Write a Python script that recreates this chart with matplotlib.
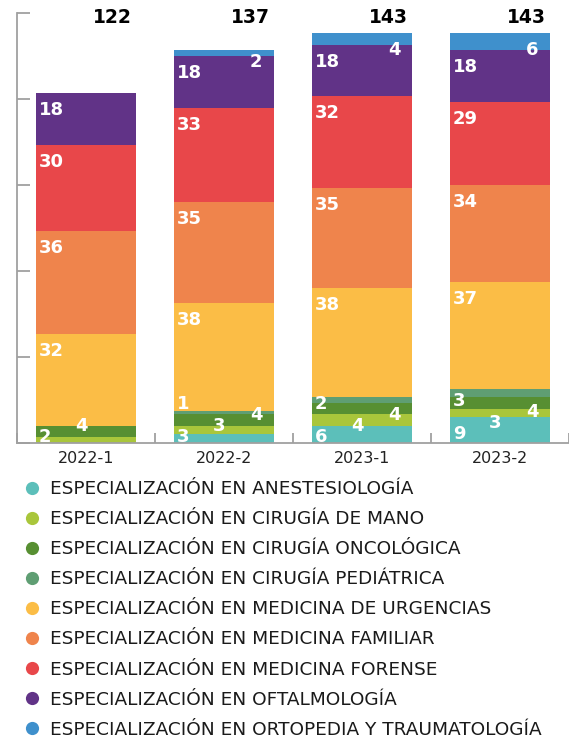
import numpy as np
import matplotlib.pyplot as plt
from matplotlib.lines import Line2D

periods = ["2022-1", "2022-2", "2023-1", "2023-2"]

programs = [
    "ESPECIALIZACIÓN EN ANESTESIOLOGÍA",
    "ESPECIALIZACIÓN EN CIRUGÍA DE MANO",
    "ESPECIALIZACIÓN EN CIRUGÍA ONCOLÓGICA",
    "ESPECIALIZACIÓN EN CIRUGÍA PEDIÁTRICA",
    "ESPECIALIZACIÓN EN MEDICINA DE URGENCIAS",
    "ESPECIALIZACIÓN EN MEDICINA FAMILIAR",
    "ESPECIALIZACIÓN EN MEDICINA FORENSE",
    "ESPECIALIZACIÓN EN OFTALMOLOGÍA",
    "ESPECIALIZACIÓN EN ORTOPEDIA Y TRAUMATOLOGÍA",
]

anestesiologia = [0, 3, 6, 9]
cirugia_mano = [2, 3, 4, 3]
cirugia_oncologica = [4, 4, 4, 4]
cirugia_pediatrica = [0, 1, 2, 3]
medicina_urgencias = [32, 38, 38, 37]
medicina_familiar = [36, 35, 35, 34]
medicina_forense = [30, 33, 32, 29]
oftalmologia = [18, 18, 18, 18]
ortopedia = [0, 2, 4, 6]

series = [anestesiologia, cirugia_mano, cirugia_oncologica, cirugia_pediatrica,
          medicina_urgencias, medicina_familiar, medicina_forense, oftalmologia, ortopedia]

colors = ["#5cbfba", "#a9c63b", "#578f32", "#5f9e73", "#fbbd46",
          "#ef844c", "#e8474a", "#613387", "#3f90cc"]

W, H = 569, 742
fig = plt.figure(figsize=(W / 100, H / 100), dpi=100)
ax = fig.add_axes([17 / W, 299 / H, 552 / W, 430 / H])

x = np.arange(len(periods))
bar_w = 0.725
ymax = 150
ppu = 430 / ymax      # pixels per unit on y
ppx = 552 / 4         # pixels per unit on x

bottom = np.zeros(len(periods))
tops = []
for vals, col in zip(series, colors):
    vals = np.array(vals, dtype=float)
    ax.bar(x, vals, bar_w, bottom=bottom, color=col, linewidth=0)
    bottom = bottom + vals
    tops.append(bottom.copy())

# value labels; the thin surgery segments at the base stagger left/center/right
# and get pushed upward so they don't sit on top of each other
cycle = ["left", "center", "right"]
for i in range(len(periods)):
    prev = -np.inf
    n_small = 0
    for k, vals in enumerate(series):
        v = vals[i]
        if v == 0:
            continue
        if k < 4:
            pos = cycle[n_small % 3]
            n_small += 1
        elif k == len(series) - 1:
            pos = "right"
        else:
            pos = "left"
        top = tops[k][i]
        yc = max(top - 17 / ppu, 6 / ppu, prev + 11 / ppu)
        prev = yc
        if pos == "left":
            xt, ha = x[i] - bar_w / 2 + 3 / ppx, "left"
        elif pos == "center":
            xt, ha = x[i] - 5 / ppx, "center"
        else:
            xt, ha = x[i] + 32 / ppx, "center"
        ax.text(xt, yc, str(v), ha=ha, va="center", color="white",
                fontsize=13, fontweight="bold")

# totals above each bar
totals = bottom
for i, t in enumerate(totals):
    ax.text(x[i] + bar_w / 2 - 4 / ppx, ymax - 4.5 / ppu, f"{int(t)}", ha="right", va="center",
            fontsize=13.5, fontweight="heavy", color="black", clip_on=False)

ax.set_xlim(-0.5, len(periods) - 0.5)
ax.set_ylim(0, ymax)

for s in ["top", "right"]:
    ax.spines[s].set_visible(False)
for s in ["left", "bottom"]:
    ax.spines[s].set_color("#a0a0a0")
    ax.spines[s].set_linewidth(1.3)

ax.set_yticks(np.arange(0, ymax + 1, 30))
ax.set_yticklabels([])
ax.tick_params(axis="y", direction="in", length=9.5, width=1.3, color="#a0a0a0")

ax.set_xticks(x)
ax.set_xticklabels(periods, fontsize=11.5, color="#222222")
ax.tick_params(axis="x", which="major", length=0, pad=6)
ax.set_xticks(np.arange(-0.5, len(periods)), minor=True)
ax.tick_params(axis="x", which="minor", direction="in", length=7, width=1.3, color="#a0a0a0")

handles = [Line2D([], [], linestyle="none", marker="o", markersize=9.5,
                  markerfacecolor=c, markeredgewidth=0) for c in colors]
fig.legend(handles, programs, loc="upper left", bbox_to_anchor=(24 / W, 1 - 480 / H),
           frameon=False, borderpad=0, borderaxespad=0, handlelength=0.9,
           handletextpad=0.5, labelspacing=0.655, fontsize=13.3,
           labelcolor="#1a1a1a")

fig.savefig("out.png", dpi=100)
